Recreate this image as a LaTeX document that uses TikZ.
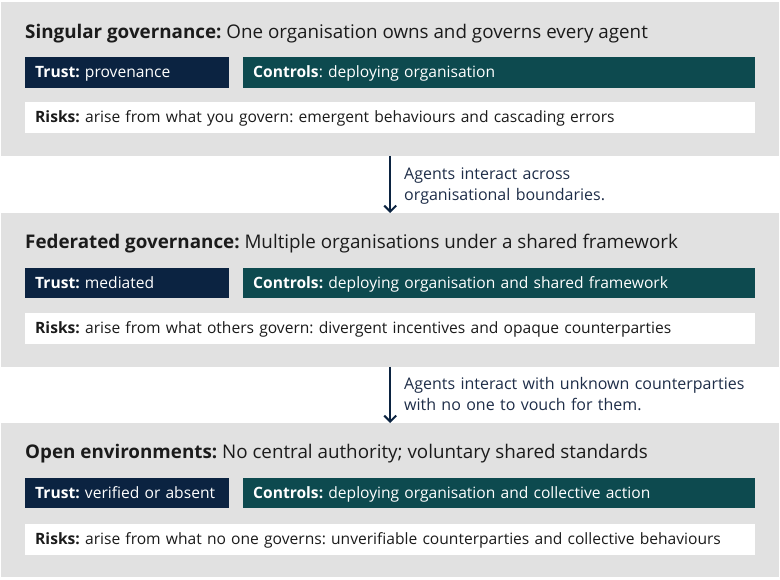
\documentclass[tikz,border=0pt]{standalone}
\usepackage{fontspec}
\setmainfont{Open Sans}
\usetikzlibrary{arrows.meta,positioning}
\definecolor{panelgray}{HTML}{E1E1E1}
\definecolor{navy}{HTML}{0B2341}
\definecolor{teal}{HTML}{0D4A4F}
\definecolor{ink}{HTML}{1B1B1B}
\definecolor{labelink}{HTML}{1E2D48}
\tikzset{
  panel/.style={fill=panelgray, draw=none, anchor=north west, minimum width=778pt, minimum height=153.5pt, inner sep=0pt},
  titletext/.style={anchor=base west, inner sep=0pt, text=ink, font=\fontsize{18.8}{22}\selectfont},
  boxtext/.style={anchor=north west, inner xsep=10pt, inner ysep=0pt, align=left, text height=13pt, text depth=2.5pt, font=\fontsize{15.6}{18}\selectfont},
  trustbox/.style={boxtext, fill=navy, text=white, minimum width=204pt, minimum height=30.5pt, text width=184pt},
  ctrlbox/.style={boxtext, fill=teal, text=white, minimum width=512pt, minimum height=30.5pt, text width=492pt},
  riskbox/.style={boxtext, fill=white, text=ink, minimum width=730pt, minimum height=31pt, text width=710pt},
  flowarrow/.style={draw=navy, line width=2pt, -{Straight Barb[length=6pt,width=12pt,line width=2pt]}},
  arrowlabel/.style={anchor=base west, inner sep=0pt, text=labelink, align=left, text width=360pt, font=\fontsize{16}{21.2}\selectfont},
}
\frenchspacing
\begin{document}
\begin{tikzpicture}[x=1pt,y=-1pt]
\useasboundingbox (0,0) rectangle (780,580);
% Panel 1
\node[panel] (p1) at (1,2) {};
\node[titletext] (t1) at (25,38.5) {\textbf{Singular governance:} One organisation owns and governs every agent};
\node[trustbox] (tr1) at (25,57) {\textbf{Trust:} provenance};
\node[ctrlbox] (c1) at (243,57) {\textbf{Controls}: deploying organisation};
\node[riskbox] (r1) at (25,102) {\textbf{Risks:} arise from what you govern: emergent behaviours and cascading errors};
% Panel 2
\node[panel] (p2) at (1,213) {};
\node[titletext] (t2) at (25,249) {\textbf{Federated governance:} Multiple organisations under a shared framework};
\node[trustbox] (tr2) at (25,267.5) {\textbf{Trust:} mediated};
\node[ctrlbox] (c2) at (243,267.5) {\textbf{Controls:} deploying organisation and shared framework};
\node[riskbox] (r2) at (25,313) {\textbf{Risks:} arise from what others govern: divergent incentives and opaque counterparties};
% Panel 3
\node[panel] (p3) at (1,423) {};
\node[titletext] (t3) at (25,458.7) {\textbf{Open environments:} No central authority; voluntary shared standards};
\node[trustbox] (tr3) at (25,477.7) {\textbf{Trust:} verified or absent};
\node[ctrlbox] (c3) at (243,477.7) {\textbf{Controls:} deploying organisation and collective action};
\node[riskbox] (r3) at (25,523.3) {\textbf{Risks:} arise from what no one governs: unverifiable counterparties and collective behaviours};
% Arrows
\draw[flowarrow] (p1.south) -- (p2.north);
\node[arrowlabel] (l1) at (404,179.5) {Agents interact across\\organisational boundaries.};
\draw[flowarrow] (p2.south) -- (p3.north);
\node[arrowlabel] (l2) at (404,389.3) {Agents interact with unknown counterparties\\with no one to vouch for them.};
\end{tikzpicture}
\end{document}
